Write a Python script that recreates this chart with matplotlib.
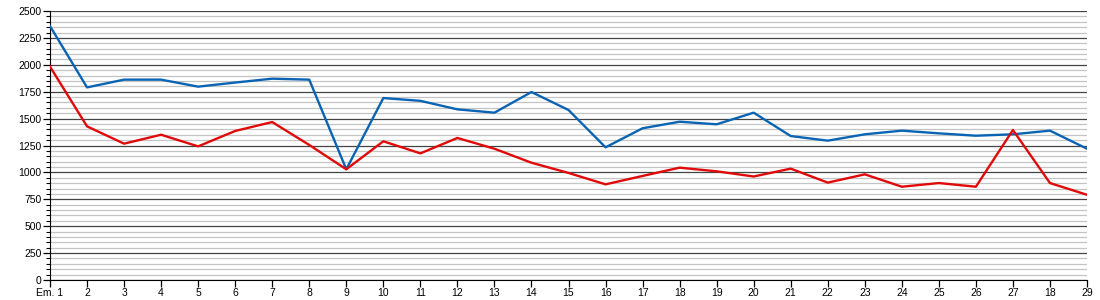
import matplotlib
matplotlib.use("Agg")
import matplotlib.pyplot as plt
from matplotlib.ticker import MultipleLocator

plt.rcParams['font.family'] = ['Liberation Sans', 'DejaVu Sans']

labels = ["Em. 1"] + [str(i) for i in range(2, 28)] + ["18", "29"]
blue = [2360, 1790, 1862, 1862, 1797, 1835, 1871, 1862, 1029, 1691,
        1665, 1586, 1555, 1747, 1580, 1233, 1410, 1471, 1447, 1555,
        1338, 1295, 1354, 1388, 1363, 1341, 1354, 1388, 1220]
red = [1983, 1428, 1267, 1350, 1242, 1385, 1468, 1255, 1029, 1289,
       1177, 1320, 1220, 1090, 995, 889, 967, 1044, 1010, 962,
       1035, 905, 982, 867, 901, 867, 1394, 901, 792]

fig = plt.figure(figsize=(11, 3), dpi=100)
ax = fig.add_axes([50/1100, 20/300, 1037/1100, 269/300])

x = list(range(len(labels)))
ax.plot(x, blue, color='#0a64b4', lw=1.7, zorder=3)
ax.plot(x, red, color='#e00a0a', lw=1.7, zorder=3)

ax.set_xlim(0, len(labels) - 1)
ax.set_ylim(0, 2500)
ax.set_xticks(x)
ax.set_xticklabels(labels)
ax.yaxis.set_major_locator(MultipleLocator(250))
ax.yaxis.set_minor_locator(MultipleLocator(50))
ax.grid(which='major', axis='y', color='#444444', lw=0.9)
ax.grid(which='minor', axis='y', color='#c4c4c4', lw=0.9)
ax.set_axisbelow(True)

for s in ['top', 'right']:
    ax.spines[s].set_visible(False)
ax.spines['left'].set_color('black')
ax.spines['bottom'].set_color('black')
ax.tick_params(axis='both', which='major', labelsize=7.5, length=5, width=0.9, pad=1)
ax.tick_params(axis='y', which='minor', length=3, width=0.8)

fig.savefig("out.png", dpi=100)
